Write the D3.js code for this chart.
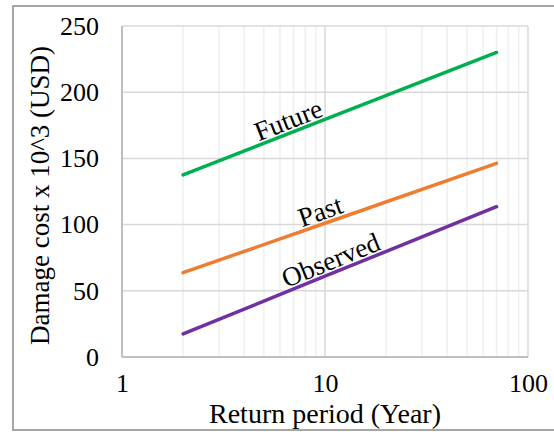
<!DOCTYPE html>
<meta charset="utf-8">
<style>
body { margin: 0; background: #fff; }
svg { display: block; font-family: "Liberation Serif", "Times New Roman", serif; }
</style>
<body>
<svg width="554" height="432"></svg>
<script src="https://d3js.org/d3.v7.min.js"></script>
<script>
// return periods (years) and damage cost x 10^3 USD
var periods = [2, 10, 70];
var future = [137.5, 179.4, 230];
var past = [63.7, 101, 146.3];
var observed = [17.4, 61, 113.5];
var seriesNames = ["Future", "Past", "Observed"];
var seriesColors = ["#00b050", "#ed7d31", "#7030a0"];
var yTicks = [0, 50, 100, 150, 200, 250];
var xTicks = [1, 10, 100];

var svg = d3.select("svg"),
    margin = {top: 26, right: 26, bottom: 75, left: 122},
    width = 554 - margin.left - margin.right,
    height = 432 - margin.top - margin.bottom;

// outer chart border
svg.append("rect")
    .attr("x", 13).attr("y", 6)
    .attr("width", 560).attr("height", 424)
    .attr("fill", "none")
    .attr("stroke", "#a6a6a6")
    .attr("stroke-width", 2);

var g = svg.append("g").attr("transform", "translate(" + margin.left + "," + margin.top + ")");

var x = d3.scaleLog().domain([1, 100]).range([0, width]),
    y = d3.scaleLinear().domain([0, 250]).range([height, 0]);

// minor vertical gridlines
var minor = [];
[1, 10].forEach(function(d) { for (var k = 2; k <= 9; k++) minor.push(d * k); });
g.selectAll(".minor")
  .data(minor)
  .enter().append("line")
    .attr("x1", function(d) { return x(d); })
    .attr("x2", function(d) { return x(d); })
    .attr("y1", 0).attr("y2", height)
    .attr("stroke", "#efefef")
    .attr("stroke-width", 1.5);

// major gridlines
g.selectAll(".hgrid")
  .data(yTicks)
  .enter().append("line")
    .attr("x1", 0).attr("x2", width)
    .attr("y1", function(d) { return y(d); })
    .attr("y2", function(d) { return y(d); })
    .attr("stroke", "#d9d9d9")
    .attr("stroke-width", 1.5);

g.selectAll(".vgrid")
  .data(xTicks)
  .enter().append("line")
    .attr("x1", function(d) { return x(d); })
    .attr("x2", function(d) { return x(d); })
    .attr("y1", 0).attr("y2", height)
    .attr("stroke", "#d9d9d9")
    .attr("stroke-width", 1.5);

// plot area outline: left and bottom axes slightly darker
g.append("line").attr("x1", 0).attr("x2", 0).attr("y1", 0).attr("y2", height)
    .attr("stroke", "#bfbfbf").attr("stroke-width", 2);
g.append("line").attr("x1", 0).attr("x2", width).attr("y1", height).attr("y2", height)
    .attr("stroke", "#bfbfbf").attr("stroke-width", 2);

// tick labels
var yAxis = g.append("g")
    .call(d3.axisLeft(y).tickValues(yTicks).tickSize(0).tickPadding(23));
var xAxis = g.append("g")
    .attr("transform", "translate(0," + height + ")")
    .call(d3.axisBottom(x).tickValues(xTicks).tickFormat(d3.format("d")).tickSize(0).tickPadding(17));
[yAxis, xAxis].forEach(function(a) {
  a.select(".domain").remove();
  a.selectAll("text")
    .attr("fill", "#000")
    .style("font-family", "Liberation Serif")
    .style("font-size", "26px");
});

var data = [future, past, observed];
var line = d3.line()
    .x(function(d, i) { return x(periods[i]); })
    .y(function(d) { return y(d); });

g.selectAll(".series")
  .data(data)
  .enter().append("path")
    .attr("d", function(d) { return line(d); })
    .attr("fill", "none")
    .attr("stroke", function(d, i) { return seriesColors[i]; })
    .attr("stroke-width", 3.5)
    .attr("stroke-linecap", "round");

// rotated labels sitting on their lines
var labelAt = [6.85, 9.8, 11.1];
g.selectAll(".lbl")
  .data(data)
  .enter().append("text")
    .attr("transform", function(d, i) {
      var a = x(periods[0]), b = x(periods[periods.length - 1]);
      var ya = y(d[0]), yb = y(d[d.length - 1]);
      var ang = Math.atan2(yb - ya, b - a) * 180 / Math.PI;
      var px = x(labelAt[i]);
      var py = ya + (yb - ya) * (px - a) / (b - a);
      return "translate(" + px + "," + (py - 4) + ") rotate(" + ang + ")";
    })
    .attr("text-anchor", "middle")
    .style("font-size", "27px")
    .attr("fill", "#000")
    .text(function(d, i) { return seriesNames[i]; });

// axis titles
svg.append("text")
    .attr("transform", "translate(49," + (margin.top + height / 2 + 4) + ") rotate(-90)")
    .attr("text-anchor", "middle")
    .style("font-size", "27px")
    .text("Damage cost x 10^3 (USD)");

svg.append("text")
    .attr("x", 325)
    .attr("y", 423)
    .attr("text-anchor", "middle")
    .style("font-size", "28px")
    .text("Return period (Year)");
</script>
</body>
